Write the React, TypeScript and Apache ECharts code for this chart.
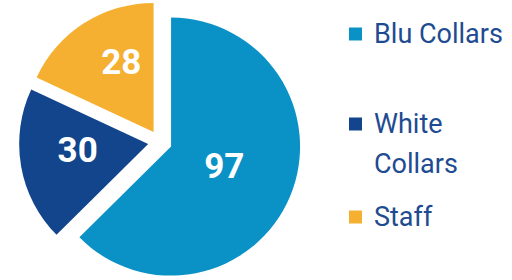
import React, { useEffect, useRef } from "react";
import * as echarts from "echarts";

const categories = ["Blu Collars", "White Collars", "Staff"];
const values = [97, 30, 28];
const legendLabels = ["Blu Collars", " \nWhite\nCollars", "Staff"];

const colors = ["#0a92c7", "#12458c", "#f5b031"];
const textColor = "#1e4b91";
const FONT = "'Roboto', 'Noto Sans', sans-serif";

// label nudges per slice: spacer line height (lift) and horizontal padding
const labelLift = [12, 10, 24];
const labelPadH = [
  [18, 0],
  [8, 0],
  [0, 8],
];

export default function App() {
  const ref = useRef<HTMLDivElement>(null);
  useEffect(() => {
    if (!ref.current) return;
    const chart = echarts.init(ref.current, null, { renderer: "svg" });
    const legendTops = [20, 64, 203];
    const legends = categories.map((name, i) => ({
      show: true,
      orient: "vertical",
      left: 349,
      top: legendTops[i],
      padding: 0,
      icon: "rect",
      itemWidth: 13,
      itemHeight: 13,
      selectedMode: false,
      data: [name],
      formatter: () => legendLabels[i],
      textStyle: {
        color: textColor,
        fontFamily: FONT,
        fontSize: 27,
        lineHeight: i === 1 ? 40 : 28,
        padding: [0, 0, 0, 7],
      },
    }));
    const rich: any = {};
    labelLift.forEach((h, i) => {
      rich["v" + i] = {
        color: "#ffffff",
        fontFamily: FONT,
        fontWeight: "bold",
        fontSize: 35,
        lineHeight: 40,
        padding: [0, labelPadH[i][0], 0, labelPadH[i][1]],
      };
      rich["s" + i] = { fontSize: 4, lineHeight: h, height: h };
    });
    chart.setOption({
      animation: false,
      color: colors,
      legend: legends,
      series: [
        {
          type: "pie",
          center: [160, 142],
          radius: 129,
          startAngle: 90,
          clockwise: true,
          selectedMode: "multiple",
          selectedOffset: 12,
          avoidLabelOverlap: false,
          emphasis: { disabled: true },
          itemStyle: { borderWidth: 0 },
          label: {
            show: true,
            position: "inside",
            color: "#ffffff",
            fontFamily: FONT,
            fontWeight: "bold",
            fontSize: 35,
            rich,
          },
          labelLine: { show: false },
          data: categories.map((name, i) => ({
            name,
            value: values[i],
            selected: true,
            label: { formatter: "{v" + i + "|{c}}\n{s" + i + "| }" },
          })),
        },
      ],
    });
    return () => chart.dispose();
  }, []);
  return (
    <div
      ref={ref}
      style={{ position: "fixed", left: 0, top: 0, width: 512, height: 280, background: "#fff" }}
    />
  );
}
